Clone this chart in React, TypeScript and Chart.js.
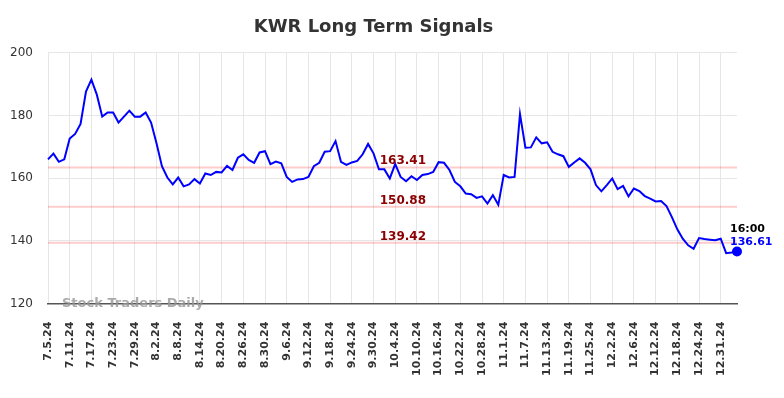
import React, { useEffect, useRef } from "react";
import { Chart, registerables } from "chart.js";

Chart.register(...registerables);

const dates: string[] = [
  "7.5.24", "7.8.24", "7.9.24", "7.10.24", "7.11.24", "7.12.24", "7.15.24", "7.16.24", "7.17.24", "7.18.24",
  "7.19.24", "7.22.24", "7.23.24", "7.24.24", "7.25.24", "7.26.24", "7.29.24", "7.30.24", "7.31.24",
  "8.1.24", "8.2.24", "8.5.24", "8.6.24", "8.7.24", "8.8.24", "8.9.24", "8.12.24", "8.13.24", "8.14.24",
  "8.15.24", "8.16.24", "8.19.24", "8.20.24", "8.21.24", "8.22.24", "8.23.24", "8.26.24", "8.27.24",
  "8.28.24", "8.29.24", "8.30.24",
  "9.3.24", "9.4.24", "9.5.24", "9.6.24", "9.9.24", "9.10.24", "9.11.24", "9.12.24", "9.13.24", "9.16.24",
  "9.17.24", "9.18.24", "9.19.24", "9.20.24", "9.23.24", "9.24.24", "9.25.24", "9.26.24", "9.27.24", "9.30.24",
  "10.1.24", "10.2.24", "10.3.24", "10.4.24", "10.7.24", "10.8.24", "10.9.24", "10.10.24", "10.11.24",
  "10.14.24", "10.15.24", "10.16.24", "10.17.24", "10.18.24", "10.21.24", "10.22.24", "10.23.24", "10.24.24",
  "10.25.24", "10.28.24", "10.29.24", "10.30.24", "10.31.24",
  "11.1.24", "11.4.24", "11.5.24", "11.6.24", "11.7.24", "11.8.24", "11.11.24", "11.12.24", "11.13.24",
  "11.14.24", "11.15.24", "11.18.24", "11.19.24", "11.20.24", "11.21.24", "11.22.24", "11.25.24", "11.26.24",
  "11.27.24", "11.29.24",
  "12.2.24", "12.3.24", "12.4.24", "12.5.24", "12.6.24", "12.9.24", "12.10.24", "12.11.24", "12.12.24",
  "12.13.24", "12.16.24", "12.17.24", "12.18.24", "12.19.24", "12.20.24", "12.23.24", "12.24.24", "12.26.24",
  "12.27.24", "12.30.24", "12.31.24",
  "1.2.25", "1.3.25", "1.6.25",
];

const prices: number[] = [
  166.0, 167.8, 165.2, 166.0, 172.6, 174.1, 177.3, 187.6, 191.4, 186.6,
  179.6, 180.9, 180.9, 177.7, 179.6, 181.5, 179.6, 179.6, 180.9, 177.7,
  171.1, 163.8, 160.2, 158.0, 160.2, 157.4, 158.0, 159.7, 158.3, 161.5,
  161.0, 162.0, 161.8, 163.9, 162.6, 166.5, 167.6, 165.8, 164.9, 168.2,
  168.6, 164.5, 165.3, 164.7, 160.4, 158.8, 159.6, 159.7, 160.4, 163.8,
  164.9, 168.4, 168.6, 171.8, 165.2, 164.2, 165.0, 165.5, 167.6, 170.9,
  167.9, 162.8, 162.8, 159.9, 164.5, 160.4, 159.0, 160.6, 159.4, 161.0,
  161.3, 162.0, 165.1, 164.9, 162.6, 158.8, 157.4, 155.1, 154.9, 153.7,
  154.2, 151.9, 154.6, 151.5, 161.0, 160.2, 160.4, 180.4, 169.7, 169.8,
  173.0, 171.1, 171.4, 168.4, 167.6, 167.0, 163.6, 165.0, 166.3, 164.9,
  162.8, 157.8, 155.8, 157.8, 159.9, 156.5, 157.5, 154.2, 156.7, 155.9,
  154.3, 153.5, 152.6, 152.7, 151.1, 147.6, 143.7, 140.7, 138.6, 137.5,
  140.9, 140.6, 140.4, 140.2, 140.7, 136.1, 136.3, 136.61,
];

const levels: number[] = [163.41, 150.88, 139.42];
const yTicks: number[] = [120, 140, 160, 180, 200];
const titleText = "KWR Long Term Signals";
const watermarkText = "Stock Traders Daily";
const lastTimeLabel = "16:00";
const lastPriceLabel = "136.61";

const FONT = "'DejaVu Sans', sans-serif";

const levelsPlugin = {
  id: "levels",
  beforeDatasetsDraw(chart: any) {
    const { ctx, chartArea, scales } = chart;
    ctx.save();
    ctx.strokeStyle = "rgba(255,0,0,0.2)";
    ctx.lineWidth = 2;
    levels.forEach((lv) => {
      const y = scales.y.getPixelForValue(lv);
      ctx.beginPath();
      ctx.moveTo(chartArea.left, y);
      ctx.lineTo(chartArea.right, y);
      ctx.stroke();
    });
    ctx.restore();
  },
  afterDatasetsDraw(chart: any) {
    const { ctx, chartArea, scales } = chart;
    ctx.save();
    ctx.font = `bold 12px ${FONT}`;
    ctx.fillStyle = "#8b0000";
    ctx.textAlign = "center";
    ctx.textBaseline = "alphabetic";
    const cx = chartArea.left + (chartArea.right - chartArea.left) * 0.515;
    levels.forEach((lv) => {
      const y = scales.y.getPixelForValue(lv);
      ctx.fillText(lv.toFixed(2), cx, y - 3);
    });

    // last point annotation
    const meta = chart.getDatasetMeta(0);
    const pt = meta.data[meta.data.length - 1];
    if (pt) {
      ctx.textAlign = "left";
      ctx.font = `bold 11px ${FONT}`;
      ctx.fillStyle = "#000000";
      ctx.fillText(lastTimeLabel, pt.x - 7, pt.y - 20);
      ctx.fillStyle = "#0000ff";
      ctx.fillText(lastPriceLabel, pt.x - 7, pt.y - 6.5);
    }

    // watermark
    ctx.font = `bold 13px ${FONT}`;
    ctx.fillStyle = "rgba(150,150,150,0.8)";
    ctx.textAlign = "left";
    ctx.fillText(watermarkText, chartArea.left + 14, chartArea.bottom + 3.5);
    ctx.restore();
  },
};

export default function App() {
  const canvasRef = useRef<HTMLCanvasElement | null>(null);

  useEffect(() => {
    document.body.style.margin = "0";
    const canvas = canvasRef.current;
    if (!canvas) return;
    const last = prices.length - 1;
    const chart = new Chart(canvas, {
      type: "line",
      data: {
        labels: dates,
        datasets: [
          {
            data: prices,
            borderColor: "#0000ff",
            backgroundColor: "#0000ff",
            borderWidth: 2,
            tension: 0,
            pointRadius: (c: any) => (c.dataIndex === last ? 4 : 0),
            pointHoverRadius: 0,
            fill: false,
          },
        ],
      },
      options: {
        responsive: false,
        animation: false,
        events: [],
        layout: { padding: { left: 10, right: 47, top: 0, bottom: 4 } },
        plugins: {
          legend: { display: false },
          tooltip: { enabled: false },
          title: {
            display: true,
            text: titleText,
            color: "#333333",
            font: { family: FONT, size: 18, weight: "bold" },
            padding: { top: 17, bottom: 14 },
          },
        },
        scales: {
          x: {
            type: "category",
            offset: false,
            afterBuildTicks: (scale: any) => {
              scale.ticks = scale.ticks.filter((t: any) => t.value % 4 === 0);
            },
            grid: { color: "#e6e6e6", lineWidth: 1, drawTicks: false },
            border: { display: true, color: "#555555", width: 1.5 },
            ticks: {
              autoSkip: false,
              maxRotation: 90,
              minRotation: 90,
              padding: 18,
              color: "#333333",
              font: { family: FONT, size: 11, weight: "bold" },
            },
          },
          y: {
            min: 120,
            max: 200,
            afterBuildTicks: (scale: any) => {
              scale.ticks = yTicks.map((v) => ({ value: v }));
            },
            afterFit: (scale: any) => {
              scale.width = 38;
            },
            grid: { color: "#e6e6e6", lineWidth: 1, drawTicks: false },
            border: { display: false },
            ticks: {
              padding: 15,
              color: "#333333",
              font: { family: FONT, size: 12 },
            },
          },
        },
      },
      plugins: [levelsPlugin],
    });
    return () => chart.destroy();
  }, []);

  return (
    <div style={{ width: 784, height: 398 }}>
      <canvas ref={canvasRef} width={784} height={398} />
    </div>
  );
}
